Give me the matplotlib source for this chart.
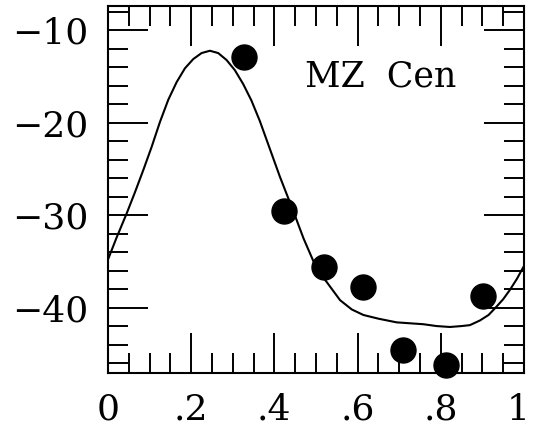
import matplotlib
matplotlib.use("Agg")
import matplotlib.pyplot as plt
import matplotlib.transforms as mtransforms
from matplotlib.ticker import MultipleLocator, FixedFormatter, FixedLocator

# Radial velocity measurements (phase, km/s)
phase_obs = [0.327, 0.423, 0.519, 0.614, 0.710, 0.813, 0.901]
rv_obs = [-12.9, -29.5, -35.6, -37.8, -44.6, -46.2, -38.8]

# Fitted velocity curve, sampled over one period
phase_fit = [0.000, 0.020, 0.045, 0.065, 0.085, 0.105, 0.125, 0.145, 0.165,
             0.185, 0.205, 0.225, 0.245, 0.265, 0.285, 0.305, 0.325, 0.345,
             0.365, 0.385, 0.413, 0.445, 0.470, 0.494, 0.522, 0.558, 0.586,
             0.614, 0.650, 0.694, 0.726, 0.758, 0.790, 0.822, 0.850, 0.870,
             0.894, 0.915, 0.934, 0.950, 0.966, 0.983, 1.000]
rv_fit = [-34.8, -32.5, -29.8, -27.5, -25.1, -22.6, -19.9, -17.5, -15.6,
          -14.1, -13.1, -12.45, -12.2, -12.45, -13.2, -14.3, -15.8, -17.6,
          -19.8, -22.3, -25.8, -29.5, -32.5, -35.0, -37.0, -39.2, -40.2,
          -40.8, -41.2, -41.6, -41.7, -41.8, -42.0, -42.1, -42.0, -41.9,
          -41.4, -40.8, -39.9, -39.1, -38.1, -36.9, -35.5]

xtick_vals = [0, 0.2, 0.4, 0.6, 0.8, 1.0]
xtick_labels = ["0", ".2", ".4", ".6", ".8", "1"]
ytick_vals = [-40, -30, -20, -10]

star_name = "MZ  Cen"

plt.rcParams["font.family"] = "DejaVu Serif"
plt.rcParams["font.size"] = 26

fig = plt.figure(figsize=(5.33, 4.38), dpi=100)
ax = fig.add_axes([0.2026, 0.148, 0.7804, 0.838])

ax.plot(phase_fit, rv_fit, color="black", lw=1.5, zorder=2,
        solid_joinstyle="round")
ax.plot(phase_obs, rv_obs, "o", color="black", ms=18, clip_on=False, zorder=3)

ax.set_xlim(0, 1)
ax.set_ylim(-47.1, -7.37)

ax.xaxis.set_major_locator(FixedLocator(xtick_vals))
ax.xaxis.set_major_formatter(FixedFormatter(xtick_labels))
ax.xaxis.set_minor_locator(MultipleLocator(0.05))
ax.yaxis.set_major_locator(FixedLocator(ytick_vals))
ax.yaxis.set_minor_locator(MultipleLocator(2))

ax.tick_params(which="both", direction="in", top=True, right=True,
               width=1.4, color="black")
ax.tick_params(which="major", length=29, pad=14)
ax.tick_params(which="minor", length=14.5)
for s in ax.spines.values():
    s.set_linewidth(1.5)

# nudge the last phase label so it stays inside the figure
last = ax.get_xticklabels()[-1]
shift = mtransforms.ScaledTranslation(-4 / 72, 0, fig.dpi_scale_trans)
last.set_transform(last.get_transform() + shift)

ax.text(0.474, -15.0, star_name, ha="left", va="center", fontsize=25)

fig.savefig("out.png", dpi=100)
